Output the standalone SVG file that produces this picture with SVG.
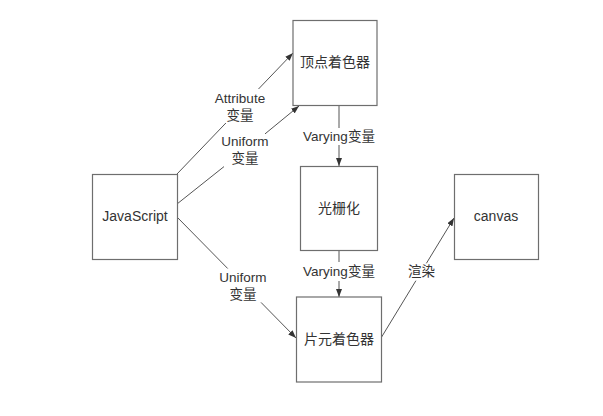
<svg xmlns="http://www.w3.org/2000/svg" width="603" height="416" viewBox="0 0 603 416">
<defs>
<style>
.box{fill:#fff;stroke:#6e6e6e;stroke-width:1.2}
.nt{font-family:"Liberation Sans","Noto Sans CJK SC",sans-serif;font-size:14px;fill:#333;text-anchor:middle;dominant-baseline:central}
.lt{font-family:"Liberation Sans","Noto Sans CJK SC",sans-serif;font-size:13.5px;fill:#333;text-anchor:middle;dominant-baseline:central}
.edge{fill:none;stroke:#555;stroke-width:1}
</style>
<marker id="arr" markerUnits="userSpaceOnUse" markerWidth="8" markerHeight="6" refX="8" refY="3" orient="auto">
<path d="M0,0 L8,3 L0,6 z" fill="#333"/>
</marker>
</defs>
<rect width="603" height="416" fill="#fff"/>
<g id="connectors">
<path class="edge" d="M177,174 L225.9,123 M258.5,89 L293,53" marker-end="url(#arr)"/>
<path class="edge" d="M177,204 L224,166.6 M265,133.9 L299,106" marker-end="url(#arr)"/>
<path class="edge" d="M177,217 L227.7,268.5 M261,302.4 L296,338" marker-end="url(#arr)"/>
<path class="edge" d="M339,105 L339,128 M339,145 L339,166" marker-end="url(#arr)"/>
<path class="edge" d="M339,251 L339,262 M339,281 L339,297" marker-end="url(#arr)"/>
<path class="edge" d="M381,338 L415.9,280.7 M426.4,263.3 L454,218" marker-end="url(#arr)"/>
<text class="lt" x="240" y="98">Attribute</text>
<text class="lt" x="240" y="115">变量</text>
<text class="lt" x="245" y="141.5">Uniform</text>
<text class="lt" x="245" y="158">变量</text>
<text class="lt" x="243" y="277">Uniform</text>
<text class="lt" x="243" y="294">变量</text>
<text class="lt" x="339" y="136">Varying变量</text>
<text class="lt" x="339" y="271.5">Varying变量</text>
<text class="lt" x="421.5" y="271.5">渲染</text>
</g>
<g id="javascript"><rect class="box" x="92.5" y="174.5" width="85" height="85"/><text class="nt" x="135" y="216">JavaScript</text></g>
<g id="vertex-shader"><rect class="box" x="293" y="20.5" width="84" height="85"/><text class="nt" x="335" y="62">顶点着色器</text></g>
<g id="rasterization"><rect class="box" x="300.5" y="166.5" width="77" height="84"/><text class="nt" x="339" y="208">光栅化</text></g>
<g id="fragment-shader"><rect class="box" x="296.5" y="297" width="85" height="85"/><text class="nt" x="339" y="338.5">片元着色器</text></g>
<g id="canvas"><rect class="box" x="454.5" y="174.5" width="84" height="85"/><text class="nt" x="496" y="216">canvas</text></g>
</svg>
